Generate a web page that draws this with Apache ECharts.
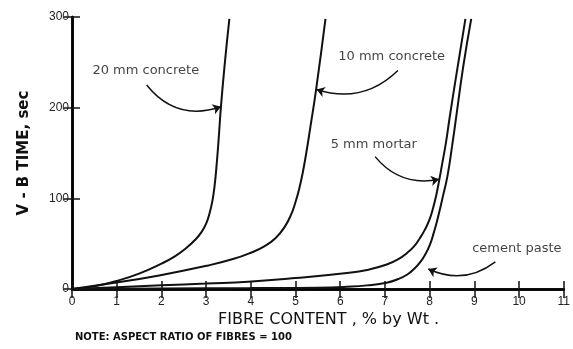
<!DOCTYPE html>
<html><head><meta charset="utf-8">
<script src="https://cdn.jsdelivr.net/npm/echarts@6/dist/echarts.min.js"></script>
<style>html,body{margin:0;padding:0;background:#fff}#c{width:573px;height:349px}</style>
</head><body><div id="c"></div>
<script>
// ---- data ----
const xTicks = [0,1,2,3,4,5,6,7,8,9,10,11];
const yTicks = [0,100,200,300];
const concrete20 = [[0,0],[0.5,3],[1,9],[1.5,17],[2,28],[2.3,36],[2.55,45],[2.75,54],[2.9,63],[3.0,72],[3.08,84],[3.14,97],[3.19,114],[3.24,140],[3.28,165],[3.33,200],[3.42,250],[3.52,298]];
const concrete10 = [[0,0],[0.84,6],[1.95,15],[3.05,26],[3.6,33],[4.0,40],[4.3,47],[4.55,56],[4.75,68],[4.9,82],[5.0,96],[5.08,110],[5.16,128],[5.24,150],[5.33,178],[5.46,220],[5.67,298]];
const mortar5 = [[0,0],[1,2],[2,4],[3,6],[3.94,8],[5,12],[6.15,17.6],[6.6,21],[7.04,27],[7.3,33],[7.5,40],[7.65,47],[7.78,56],[7.9,66],[8.0,77],[8.08,90],[8.15,104],[8.21,119],[8.28,138],[8.36,160],[8.45,190],[8.6,237],[8.8,298]];
const cementPaste = [[0,0],[2,0.5],[4,1],[5.5,1.5],[6.15,2.5],[6.6,4],[7.04,7],[7.3,11],[7.5,16],[7.65,22],[7.78,29],[7.9,38],[8.0,48],[8.08,60],[8.16,74],[8.23,88],[8.3,103],[8.4,125],[8.5,157],[8.6,192],[8.75,245],[8.93,298]];
const labelNames = ['20 mm concrete','10 mm concrete','5 mm mortar','cement paste'];
const labelPos = [[1.65,241],[7.15,256],[6.75,159],[9.95,45]];
const arrowFrom = [[1.67,225],[7.29,241],[6.78,146],[9.47,30]];
const arrowTo = [[3.33,201],[5.47,220],[8.21,121],[7.97,22]];
const arrowBend = [-0.35,0.3,-0.3,0.3];
const xTitle = 'FIBRE CONTENT , % by Wt .';
const yTitle = 'V - B TIME, sec';
const note = 'NOTE: ASPECT RATIO OF FIBRES = 100';

const FONT = 'Liberation Sans, Arial, sans-serif';
const WIDE = '"DejaVu Sans", Verdana, sans-serif';
const chart = echarts.init(document.getElementById('c'));
const axisLine = {show:true, lineStyle:{color:'#000', width:2.5}};
function curve(name, data){
  return {name, type:'line', data, smooth:0.5, showSymbol:false, symbol:'none',
    lineStyle:{color:'#111', width:2}, clip:true, silent:true, z:3};
}
const series = [
  curve('20 mm concrete', concrete20),
  curve('10 mm concrete', concrete10),
  curve('5 mm mortar', mortar5),
  curve('cement paste', cementPaste),
  {type:'scatter', symbolSize:0, silent:true,
   data: labelNames.map((n,i)=>({name:n, value:labelPos[i]})),
   label:{show:true, position:'inside', formatter:'{b}', color:'#111', fontSize:13, fontFamily:WIDE}},
];
arrowFrom.forEach((f,i)=>{
  series.push({type:'lines', coordinateSystem:'cartesian2d', silent:true,
    symbol:['none','arrow'], symbolSize:[0,8],
    lineStyle:{color:'#111', width:1.5, curveness:arrowBend[i], opacity:1},
    data:[{coords:[f, arrowTo[i]]}], z:4});
});
chart.setOption({
  animation:false,
  backgroundColor:'#fff',
  grid:{left:72, right:4, top:17, bottom:60},
  xAxis:[
    {type:'value', min:0, max:11, interval:1, position:'bottom',
     axisLine, axisTick:{show:true, inside:true, length:8, lineStyle:{color:'#111', width:1.5}},
     axisLabel:{color:'#222', fontSize:12, fontFamily:FONT, margin:7, formatter:v=>xTicks.includes(v)?String(v):''},
     splitLine:{show:false}},
    {type:'value', min:0, max:11, interval:1, position:'top',
     axisLine, axisTick:{show:true, inside:true, length:9, lineStyle:{color:'#111', width:1.5}},
     axisLabel:{show:false}, splitLine:{show:false}}
  ],
  yAxis:[
    {type:'value', min:0, max:300, interval:100, position:'left',
     name:yTitle, nameLocation:'middle', nameRotate:90, nameGap:40,
     nameTextStyle:{color:'#111', fontSize:15, fontWeight:'bold', fontFamily:WIDE},
     axisLine, axisTick:{show:true, inside:true, length:8, lineStyle:{color:'#111', width:1.5}},
     axisLabel:{color:'#222', fontSize:12, fontFamily:FONT, margin:3, formatter:v=>yTicks.includes(v)?String(v):''},
     splitLine:{show:false}},
    {type:'value', min:0, max:300, interval:100, position:'right',
     axisLine, axisTick:{show:true, inside:true, length:8, lineStyle:{color:'#111', width:1.5}},
     axisLabel:{show:false}, splitLine:{show:false}}
  ],
  graphic:[
    {type:'text', left:218, top:312, style:{text:xTitle, fill:'#111', font:'16px '+WIDE}},
    {type:'text', left:75, top:332, style:{text:note, fill:'#111', font:'bold 10px '+WIDE}}
  ],
  series
});
</script></body></html>
